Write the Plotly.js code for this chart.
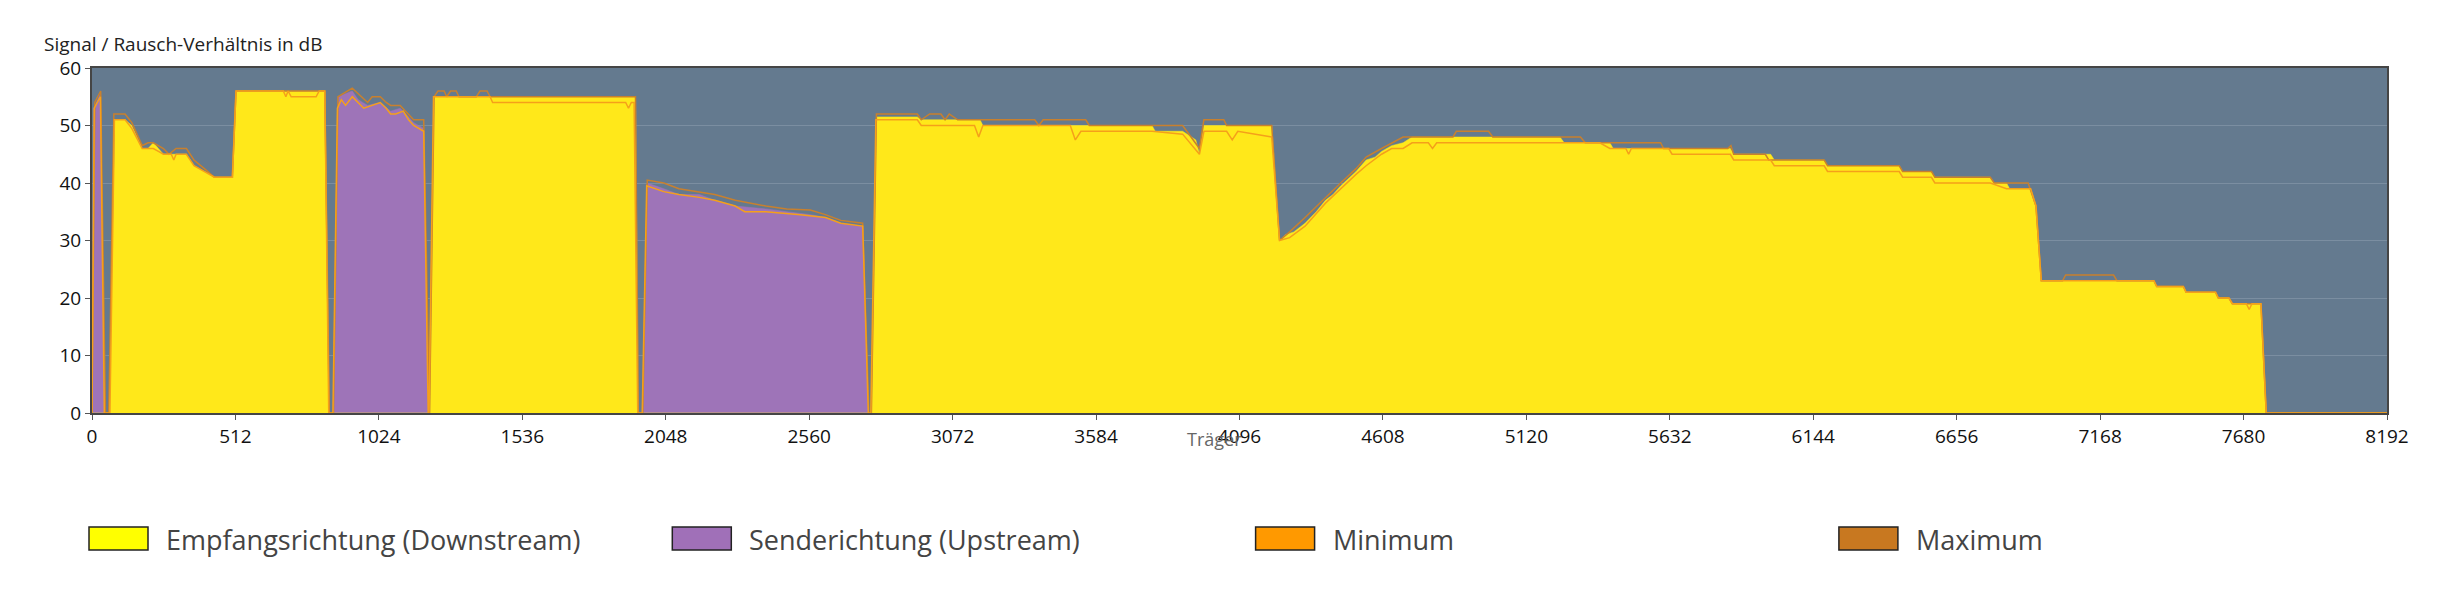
<!DOCTYPE html>
<html>
<head>
<meta charset="utf-8">
<script src="https://cdn.plot.ly/plotly-3.0.1.min.js"></script>
<style>
  html, body { margin: 0; padding: 0; background: #fff; }
  #snr-chart { width: 2440px; height: 601px; }
</style>
</head>
<body>
<div id="snr-chart"></div>
<script>
// carrier / dB pairs
const upstream = [
  [0,0],[6,53],[30,55.5],[46,0],[860,0],[878,55],[929,56],[950,54.5],[984,53.5],[1029,54],
  [1066,52.5],[1100,53],[1130,51.5],[1148,50.5],[1184,49.5],[1203,0],[1964,0],[1982,40],[2041,39],
  [2095,38],[2168,38],[2223,37],[2296,36],[2405,35.5],[2480,35],[2564,34.5],[2618,34],[2673,33],
  [2751,32.5],[2773,0],[8192,0]
];

const downstream = [
  [0,0],[62,0],[82,51],[118,51],[142,50],[179,46],[200,46],[219,47],[237,46],[255,45],[337,45],
  [364,43],[401,42],[437,41],[501,41],[514,56],[831,56],[847,0],[1203,0],[1221,55],[1940,55],[1950,0],
  [2782,0],[2800,51.5],[2946,51.5],[2960,51],[3170,51],[3180,50],[3784,50],[3795,49],[3893,49],
  [3940,47.5],[3953,45],[3969,50],[4211,50],[4239,30],[4260,31],[4290,31.5],[4330,33],[4370,35],
  [4403,37],[4430,38],[4457,39.5],[4490,41],[4512,42],[4548,44],[4580,44.5],[4603,45.5],[4639,46.5],
  [4680,47],[4712,48],[5240,48],[5255,47],[5418,47],[5430,46],[5848,46],[5860,45],[5992,45],[6005,44],
  [6183,44],[6195,43],[6451,43],[6463,42],[6566,42],[6578,41],[6776,41],[6790,40],[6834,40],[6845,39],
  [6920,39],[6939,36],[6958,23],[7360,23],[7370,22],[7465,22],[7475,21],[7580,21],[7590,20],[7628,20],
  [7640,19],[7742,19],[7761,0],[8192,0]
];

const minimum = [
  [0,0],[8,53],[30,55],[44,0],[64,0],[80,51],[118,51],[142,49.5],[179,46],[219,46],[237,45.5],[255,45],
  [283,45],[292,44],[300,45],[337,45],[364,43],[401,42],[437,41],[501,41],[514,56],[683,56],[692,55],
  [700,56],[711,55],[800,55],[811,56],[831,56],[845,0],[860,0],[876,53],[890,54.5],[905,53.5],[929,55],
  [950,54],[970,53],[1029,54],[1050,53],[1066,52],[1084,52],[1111,52.5],[1130,51],[1148,50],[1184,49],
  [1200,0],[1203,0],[1219,55],[1421,55],[1430,54],[1905,54],[1915,53],[1925,54],[1935,54],[1948,0],
  [1964,0],[1980,39.5],[2041,38.5],[2095,38],[2168,37.5],[2223,37],[2296,36],[2330,35],[2405,35],
  [2529,34.5],[2618,34],[2673,33],[2751,32.5],[2771,0],[2780,0],[2798,51],[2946,51],[2960,50],[3150,50],
  [3165,48],[3180,50],[3365,50],[3492,50],[3510,47.5],[3530,49],[3547,49],[3784,49],[3893,48.5],
  [3953,45],[3969,49],[4050,49],[4070,47.5],[4090,49],[4211,48],[4239,30],[4275,30.5],[4330,32.5],
  [4403,36.5],[4457,39],[4512,41.5],[4548,43],[4603,45],[4639,46],[4680,46],[4712,47],[4770,47],
  [4785,46],[4800,47],[5382,47],[5418,46],[5475,46],[5485,45],[5495,46],[5628,46],[5640,45],[5848,45],
  [5860,44],[5992,44],[6005,43],[6183,43],[6195,42],[6451,42],[6463,41],[6566,41],[6578,40],[6776,40],
  [6834,39],[6920,39],[6939,36],[6958,23],[7360,23],[7370,22],[7465,22],[7475,21],[7580,21],[7590,20],
  [7628,20],[7640,19],[7690,19],[7700,18],[7710,19],[7742,19],[7761,0],[8192,0]
];

const maximum = [
  [0,0],[10,54],[31,56],[48,0],[60,0],[78,52],[118,52],[142,50.5],[179,46.5],[200,47],[219,47],
  [237,46.5],[255,46],[275,45],[300,46],[337,46],[364,44],[401,42.5],[437,41],[501,41],[514,56],
  [831,56],[847,0],[862,0],[878,55],[929,56.5],[950,55.5],[984,54],[1000,55],[1029,55],[1050,54],
  [1066,53.5],[1100,53.5],[1130,52],[1148,51],[1184,51],[1203,0],[1205,0],[1221,55],[1235,56],[1257,56],
  [1266,55],[1280,56],[1300,56],[1310,55],[1372,55],[1385,56],[1410,56],[1421,55],[1940,55],[1950,0],
  [1966,0],[1982,40.5],[2041,40],[2095,39],[2168,38.5],[2223,38],[2296,37],[2405,36],[2480,35.5],
  [2564,35.3],[2618,34.5],[2673,33.5],[2751,33],[2773,0],[2782,0],[2800,52],[2946,52],[2960,51],
  [2990,52],[3030,52],[3045,51],[3060,52],[3090,51],[3365,51],[3380,50],[3395,51],[3547,51],[3560,50],
  [3893,50],[3953,46],[3969,51],[4040,51],[4050,50],[4211,50],[4239,30],[4275,31.5],[4330,34],
  [4403,37.5],[4457,40],[4512,42.5],[4548,44.5],[4603,46],[4639,47],[4680,48],[4858,48],[4870,49],
  [4985,49],[5000,48],[5313,48],[5330,47],[5599,47],[5610,46],[5839,46],[5850,46.5],[5860,45],
  [5973,45],[5985,44],[6183,44],[6195,43],[6451,43],[6463,42],[6566,42],[6578,41],[6776,41],[6790,40],
  [6911,40],[6939,36],[6958,23],[7034,23],[7045,24],[7216,24],[7228,23],[7360,23],[7370,22],[7465,22],
  [7475,21],[7580,21],[7590,20],[7628,20],[7640,19],[7742,19],[7761,0],[8192,0]
];

const xTicks = [0, 512, 1024, 1536, 2048, 2560, 3072, 3584, 4096, 4608, 5120, 5632, 6144, 6656, 7168, 7680, 8192];
const yTicks = [0, 10, 20, 30, 40, 50, 60];

const legendLabels = ['Empfangsrichtung (Downstream)', 'Senderichtung (Upstream)', 'Minimum', 'Maximum'];
const legendColors = ['#ffff00', '#a070b8', '#ff9900', '#c87820'];

//plot area in pixels, used to place the hand drawn legend
const plotLeft = 92, plotRight = 2387, plotTop = 68, plotBottom = 413;
const plotW = plotRight - plotLeft, plotH = plotBottom - plotTop;
const px = (x) => (x - plotLeft) / plotW;
const py = (y) => (plotBottom - y) / plotH;

function areaTrace (pairs, color) {
  return {
    x: pairs.map(p => p[0]),
    y: pairs.map(p => p[1]),
    mode: 'lines',
    fill: 'tozeroy',
    fillcolor: color,
    line: {color: color, width: 0.5},
    hoverinfo: 'skip',
    showlegend: false
  }
}

function lineTrace (pairs, color) {
  return {
    x: pairs.map(p => p[0]),
    y: pairs.map(p => p[1]),
    mode: 'lines',
    line: {color: color, width: 1.5},
    hoverinfo: 'skip',
    showlegend: false
  }
}

let data = [
  areaTrace(upstream, '#9e74b8'),
  areaTrace(downstream, '#ffe81a'),
  lineTrace(maximum, '#c8802e'),
  lineTrace(minimum, '#f5a01a')
];

let shapes = [];
let annotations = [
  {
    text: 'Signal / Rausch-Verhältnis in dB',
    xref: 'paper', yref: 'paper',
    x: px(42), y: py(44),
    xanchor: 'left', yanchor: 'middle',
    showarrow: false,
    font: {family: 'Open Sans', size: 19, color: '#222'}
  },
  {
    text: 'Träger',
    xref: 'paper', yref: 'paper',
    x: px(1214), y: py(439),
    xanchor: 'center', yanchor: 'middle',
    showarrow: false,
    font: {family: 'Open Sans', size: 18, color: '#666'}
  }
];

legendLabels.forEach(function (label, i) {
  let left = 89 + i * 583.3;
  shapes.push({
    type: 'rect', xref: 'paper', yref: 'paper',
    x0: px(left), x1: px(left + 59),
    y0: py(527), y1: py(550),
    fillcolor: legendColors[i],
    line: {color: '#222', width: 1.5}
  });
  annotations.push({
    text: label,
    xref: 'paper', yref: 'paper',
    x: px(left + 75), y: py(539),
    xanchor: 'left', yanchor: 'middle',
    showarrow: false,
    font: {family: 'Open Sans', size: 27, color: '#444'}
  });
});

let layout = {
  width: 2440,
  height: 601,
  margin: {l: plotLeft, r: 2440 - plotRight, t: plotTop, b: 601 - plotBottom},
  paper_bgcolor: '#ffffff',
  plot_bgcolor: '#647a8f',
  showlegend: false,
  xaxis: {
    range: [0, 8192],
    tickvals: xTicks,
    ticktext: xTicks.map(String),
    ticks: 'outside',
    ticklen: 5,
    tickcolor: '#555',
    showgrid: false,
    zeroline: false,
    showline: true,
    mirror: true,
    linecolor: '#454545',
    linewidth: 2,
    tickfont: {family: 'Open Sans', size: 19, color: '#111'}
  },
  yaxis: {
    range: [0, 60],
    tickvals: yTicks,
    ticks: 'outside',
    ticklen: 5,
    tickcolor: '#555',
    showgrid: true,
    gridcolor: '#7b8ea1',
    gridwidth: 1,
    zeroline: false,
    showline: true,
    mirror: true,
    linecolor: '#454545',
    linewidth: 2,
    tickfont: {family: 'Open Sans', size: 19, color: '#111'}
  },
  shapes: shapes,
  annotations: annotations
};

const staticConfig = {staticPlot: true, displayModeBar: false};

Plotly.newPlot('snr-chart', data, layout, staticConfig);
</script>
</body>
</html>
